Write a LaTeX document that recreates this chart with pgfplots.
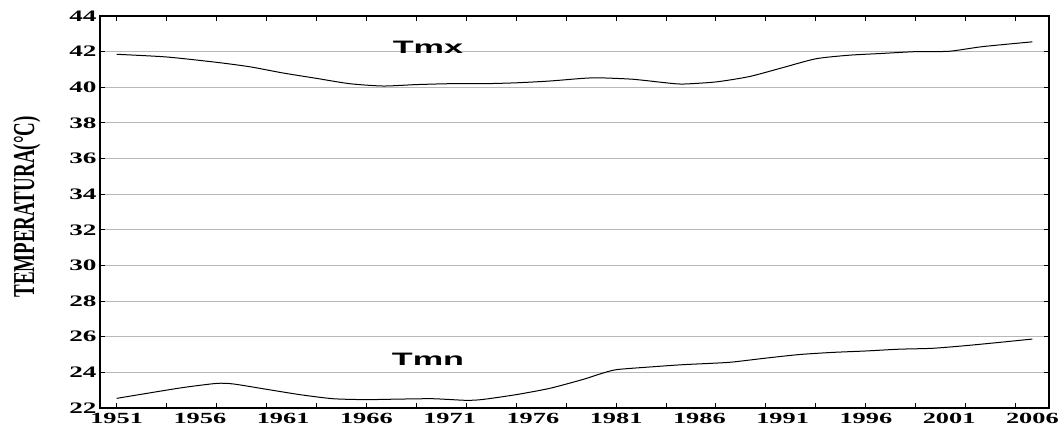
\documentclass[border=0pt]{standalone}
\usepackage{pgfplots}
\pgfplotsset{compat=1.18}
\usepackage{fontspec}
\setmainfont{Liberation Serif}
\newfontfamily\arialfont{Liberation Sans}
\usepackage{graphicx}
\newcommand\sx[1]{\scalebox{1.7}[1]{\textbf{#1}}}
\begin{document}
\begin{tikzpicture}
\begin{axis}[
 scale only axis, width=949pt, height=392pt,
 xmin=1950, xmax=2007, ymin=22, ymax=44,
 ytick={22,24,...,44},
 yticklabels={\sx{22},\sx{24},\sx{26},\sx{28},\sx{30},\sx{32},\sx{34},\sx{36},\sx{38},\sx{40},\sx{42},\sx{44}},
 ymajorgrids, grid style={black!28, line width=0.9pt},
 xtick={1951,1954,...,2005}, xticklabels={},
 extra x ticks={1951,1956,...,2006},
 extra x tick labels={\sx{1951},\sx{1956},\sx{1961},\sx{1966},\sx{1971},\sx{1976},\sx{1981},\sx{1986},\sx{1991},\sx{1996},\sx{2001},\sx{2006}},
 extra x tick style={major tick length=0pt, xmajorgrids=false},
 tick align=inside, major tick length=5pt,
 axis line style={line width=1.2pt},
 tick style={black, line width=1pt},
 yticklabel style={font=\fontsize{16}{18}\selectfont},
 xticklabel style={font=\fontsize{15.5}{17}\selectfont, yshift=-1.5pt},
 ylabel={\scalebox{1}[1.6]{\textbf{TEMPERATURA(°C)}}},
 ylabel style={font=\fontsize{19}{21}\selectfont, at={(axis description cs:-0.077,0.513)}, anchor=center},
]
\addplot[black, line width=1pt, smooth, tension=0.4] coordinates {
(1951,41.85) (1954,41.7) (1957,41.4) (1959,41.15) (1961,40.8) (1963,40.5) (1965,40.2)
(1967,40.07) (1969,40.15) (1971,40.2) (1973,40.2) (1975,40.25) (1977,40.35) (1979,40.5)
(1980,40.53) (1982,40.45) (1984,40.25) (1985,40.18) (1987,40.3) (1989,40.6) (1991,41.1)
(1993,41.6) (1995,41.8) (1997,41.9) (1999,42.0) (2001,42.02) (2003,42.28) (2006,42.55)
};
\addplot[black, line width=1pt, smooth, tension=0.4] coordinates {
(1951,22.54) (1953,22.85) (1955,23.15) (1957,23.38) (1958,23.35) (1960,23.05) (1962,22.75)
(1964,22.52) (1966,22.47) (1968,22.5) (1970,22.52) (1972,22.43) (1973,22.48) (1975,22.75)
(1977,23.1) (1979,23.6) (1980,23.9) (1981,24.15) (1983,24.3) (1985,24.43) (1987,24.52)
(1988,24.58) (1990,24.8) (1992,25.0) (1994,25.12) (1996,25.2) (1998,25.3) (2000,25.35)
(2002,25.5) (2004,25.68) (2006,25.87)
};
\node[anchor=base, font=\arialfont\bfseries\fontsize{18}{20}\selectfont] at (axis cs:1969.7,41.9) {\scalebox{1.9}[1]{Tmx}};
\node[anchor=base, font=\arialfont\bfseries\fontsize{18}{20}\selectfont] at (axis cs:1969.7,24.41) {\scalebox{1.9}[1]{Tmn}};
\end{axis}
\pgfresetboundingbox
\useasboundingbox ([shift={(-100pt,-25pt)}]current axis.south west) rectangle ([shift={(13pt,16pt)}]current axis.north east);
\end{tikzpicture}
\end{document}
